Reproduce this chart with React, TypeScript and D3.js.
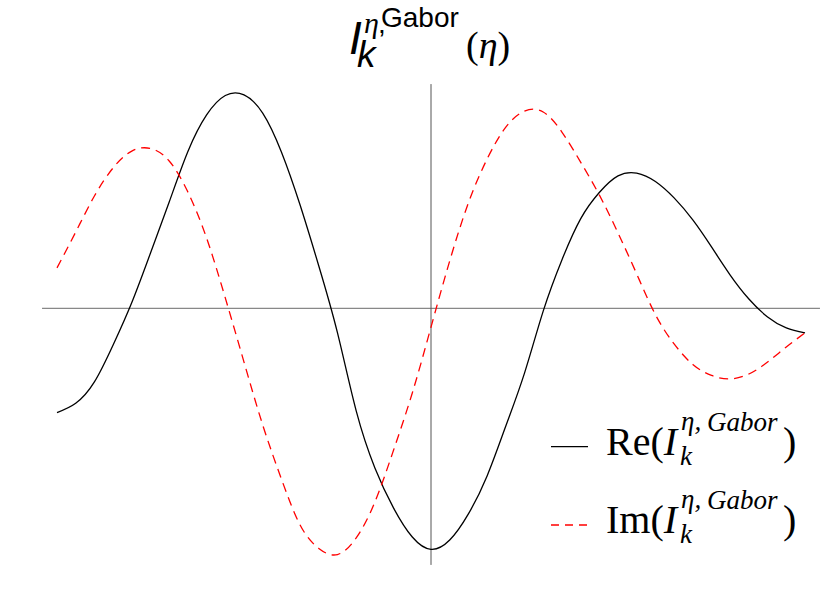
import React from "react";
import * as d3 from "d3";

// sample positions (eta) and values
const eta = [
  -10, -9.5, -9, -8.5, -8, -7.5, -7, -6.5, -6, -5.5, -5, -4.5, -4, -3.5, -3, -2.5, -2, -1.5, -1, -0.5,
  0, 0.5, 1, 1.5, 2, 2.5, 3, 3.5, 4, 4.5, 5, 5.5, 6, 6.5, 7, 7.5, 8, 8.5, 9, 9.5, 10,
];
const reValues = [
  -0.483, -0.44, -0.341, -0.17, 0.027, 0.256, 0.492, 0.726, 0.895, 0.985, 0.988, 0.904, 0.724, 0.478,
  0.196, -0.114, -0.475, -0.739, -0.925, -1.059, -1.116, -1.073, -0.952, -0.776, -0.545, -0.3, -0.013,
  0.224, 0.414, 0.536, 0.613, 0.626, 0.587, 0.511, 0.409, 0.284, 0.154, 0.043, -0.04, -0.091, -0.114,
];
const imValues = [
  0.187, 0.353, 0.52, 0.65, 0.728, 0.74, 0.682, 0.538, 0.325, 0.048, -0.249, -0.54, -0.79, -1.003,
  -1.112, -1.14, -1.063, -0.897, -0.656, -0.392, -0.087, 0.219, 0.488, 0.691, 0.839, 0.913, 0.909,
  0.816, 0.677, 0.525, 0.349, 0.159, -0.029, -0.165, -0.26, -0.311, -0.327, -0.304, -0.249, -0.179,
  -0.114,
];
const xAxisRange = [-10.4, 10.4];
const yAxisRange = [-1.188, 1.038];

const serif = "'Liberation Serif', 'Times New Roman', serif";
const sans = "'Liberation Sans', Arial, sans-serif";

function LegendLabel({ y, prefix }: { y: number; prefix: string }) {
  return (
    <g fontFamily={serif} fill="#000">
      <text x={606} y={y} fontSize={40}>
        {prefix}(<tspan fontStyle="italic">I</tspan>
      </text>
      <text x={681} y={y - 25} fontSize={27} fontStyle="italic">η,</text>
      <text x={707} y={y - 24} fontSize={27} fontStyle="italic">Gabor</text>
      <text x={680} y={y + 10} fontSize={27} fontStyle="italic">k</text>
      <text x={783} y={y} fontSize={40}>)</text>
    </g>
  );
}

export default function App() {
  const width = 830;
  const height = 597;

  const x = d3.scaleLinear().domain([-10, 10]).range([57, 805]);
  const y = d3.scaleLinear().domain([-1, 1]).range([524.3, 92.3]);

  const line = d3
    .line<number>()
    .x((_, i) => x(eta[i]))
    .y((d) => y(d))
    .curve(d3.curveNatural);

  return (
    <svg
      width={width}
      height={height}
      style={{ position: "absolute", left: 0, top: 0, background: "#fff" }}
    >
      {/* axes */}
      <line x1={x(xAxisRange[0])} x2={x(xAxisRange[1])} y1={y(0)} y2={y(0)} stroke="#888" strokeWidth={1.3} />
      <line x1={x(0)} x2={x(0)} y1={y(yAxisRange[1])} y2={y(yAxisRange[0])} stroke="#555" strokeWidth={1} />

      {/* curves */}
      <path d={line(reValues) ?? ""} fill="none" stroke="#000" strokeWidth={1.3} />
      <path d={line(imValues) ?? ""} fill="none" stroke="#ff0000" strokeWidth={1.3} strokeDasharray="9,6" />

      {/* title */}
      <g fill="#000">
        <text x={349} y={54} fontFamily={sans} fontStyle="italic" fontSize={46}>I</text>
        <text x={364} y={33} fontFamily={serif} fontStyle="italic" fontSize={30}>η</text>
        <text x={378} y={33} fontFamily={sans} fontSize={28}>,</text>
        <text x={381} y={27} fontFamily={sans} fontSize={28}>Gabor</text>
        <text x={357} y={67} fontFamily={sans} fontStyle="italic" fontSize={37}>k</text>
        <text x={466} y={58} fontFamily={serif} fontSize={38}>
          (<tspan fontStyle="italic">η</tspan>)
        </text>
      </g>

      {/* legend */}
      <line x1={551} x2={588} y1={446.7} y2={446.7} stroke="#000" strokeWidth={1.3} />
      <line x1={551} x2={588} y1={525} y2={525} stroke="#ff0000" strokeWidth={1.3} strokeDasharray="8,6" />
      <LegendLabel y={455} prefix="Re" />
      <LegendLabel y={533} prefix="Im" />
    </svg>
  );
}
